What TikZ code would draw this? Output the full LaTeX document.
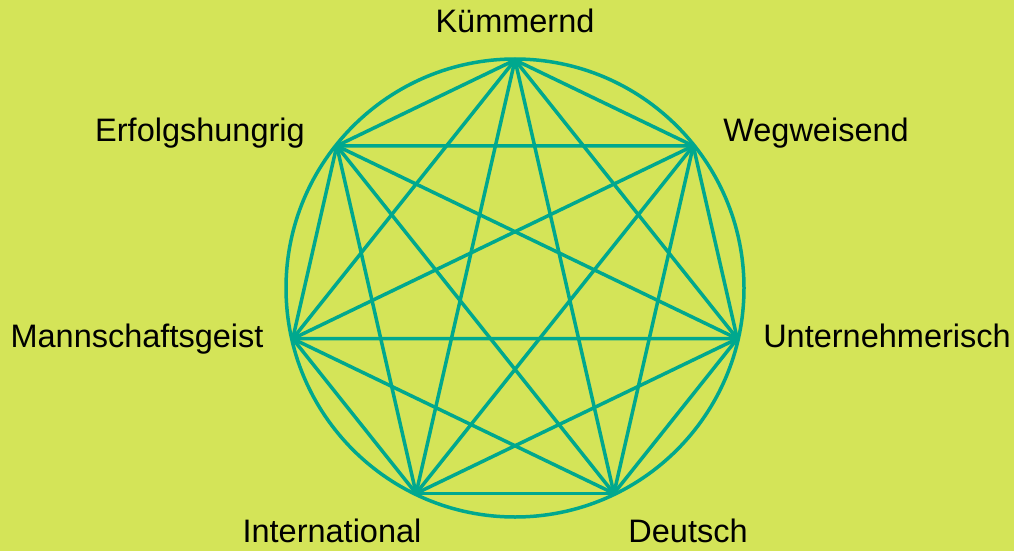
\documentclass[tikz,border=0pt]{standalone}
\usepackage{fontspec}
\setmainfont{Liberation Sans}
\definecolor{bgc}{RGB}{212,228,88}
\definecolor{tealc}{RGB}{0,168,142}
\begin{document}
\begin{tikzpicture}[x=1pt,y=-1pt,
  chord/.style={draw=tealc,line width=3.5pt,line cap=round},
  lbl/.style={font=\fontsize{32.5}{38}\selectfont,inner sep=0pt,anchor=base,text=black}]
\fill[bgc] (0,0) rectangle (1014,551);
\useasboundingbox (0,0) rectangle (1014,551);
\coordinate (c) at (515,288);
\foreach \i in {0,...,6}
  \coordinate (v\i) at ({515+228*sin(\i*360/7)},{288-228*cos(\i*360/7)});
\draw[chord] (c) circle [radius=229];
\foreach \i in {0,...,5}{
  \pgfmathtruncatemacro\s{\i+1}
  \foreach \j in {\s,...,6}{\draw[chord] (v\i) -- (v\j);}}
\node[lbl] (l0) at (515,33) {Kümmernd};
\node[lbl] (l1) at (816,141) {Wegweisend};
\node[lbl] (l2) at (887,347) {Unternehmerisch};
\node[lbl] (l3) at (688,542) {Deutsch};
\node[lbl] (l4) at (332,542) {International};
\node[lbl] (l5) at (137,347) {Mannschaftsgeist};
\node[lbl] (l6) at (200,141) {Erfolgshungrig};
\end{tikzpicture}
\end{document}
